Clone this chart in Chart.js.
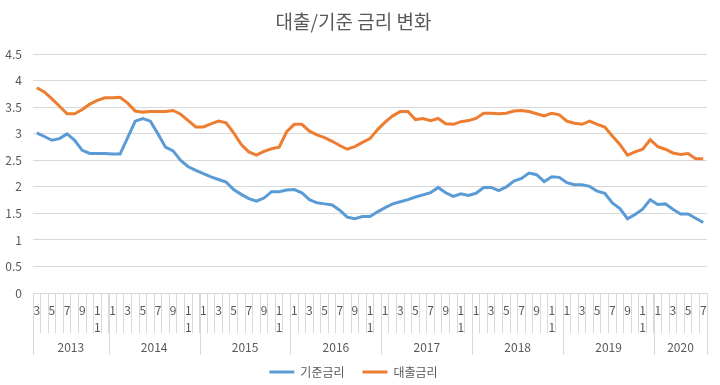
<!DOCTYPE html>
<html>
<head>
<meta charset="utf-8">
<script src="https://cdn.jsdelivr.net/npm/chart.js"></script>
<style>
body { margin: 0; background: #fff; }
#wrap { width: 720px; height: 385px; position: relative; }
</style>
</head>
<body>
<div id="wrap"><canvas id="rateChart"></canvas></div>
<script>
// month of each point, 2013-03 .. 2020-07
const months = [
    3,4,5,6,7,8,9,10,11,12,
    1,2,3,4,5,6,7,8,9,10,11,12,
    1,2,3,4,5,6,7,8,9,10,11,12,
    1,2,3,4,5,6,7,8,9,10,11,12,
    1,2,3,4,5,6,7,8,9,10,11,12,
    1,2,3,4,5,6,7,8,9,10,11,12,
    1,2,3,4,5,6,7,8,9,10,11,12,
    1,2,3,4,5,6,7
];
const years = ["2013","2014","2015","2016","2017","2018","2019","2020"];
const yearCounts = [10,12,12,12,12,12,12,7];

const baseRate = [
    3.02,2.95,2.88,2.91,3.00,2.88,2.69,2.63,2.63,2.63,2.62,2.62,2.93,3.24,3.29,
    3.24,3.00,2.75,2.68,2.50,2.38,2.31,2.25,2.19,2.14,2.09,1.95,1.86,1.78,1.73,
    1.79,1.91,1.91,1.94,1.95,1.89,1.76,1.70,1.68,1.66,1.56,1.43,1.40,1.44,
    1.44,1.53,1.61,1.68,1.72,1.76,1.81,1.85,1.89,1.99,1.89,1.82,1.87,1.84,1.88,
    1.99,1.99,1.93,2.00,2.11,2.16,2.26,2.23,2.10,2.19,2.18,2.08,2.04,2.04,
    2.01,1.92,1.88,1.70,1.59,1.40,1.48,1.58,1.76,1.67,1.68,1.58,1.49,1.49,1.41,1.33
];
const loanRate = [
    3.87,3.79,3.66,3.52,3.38,3.38,3.46,3.56,3.63,3.68,3.68,3.69,3.58,3.43,3.41,
    3.42,3.42,3.42,3.44,3.37,3.25,3.13,3.13,3.19,3.24,3.21,3.02,2.80,2.66,2.60,
    2.67,2.72,2.75,3.04,3.18,3.18,3.05,2.98,2.93,2.86,2.78,2.71,2.76,2.84,
    2.91,3.08,3.22,3.34,3.42,3.42,3.27,3.29,3.25,3.29,3.19,3.18,3.23,3.25,3.29,
    3.39,3.39,3.38,3.39,3.43,3.44,3.42,3.38,3.34,3.39,3.36,3.24,3.20,3.18,
    3.24,3.18,3.13,2.96,2.80,2.60,2.66,2.71,2.89,2.76,2.71,2.64,2.61,2.63,2.53,2.53
];

const FONT = "'Malgun Gothic','Noto Sans CJK KR',sans-serif";
const GRAY = "#d9d9d9";
const TEXT = "#595959";

// year row under the month labels
const yearRow = {
    id: "yearRow",
    afterDraw(chart) {
        const x = chart.scales.x;
        const ctx = chart.ctx;
        const half = (x.getPixelForValue(1) - x.getPixelForValue(0)) / 2;
        const top = chart.chartArea.bottom;
        ctx.save();
        ctx.strokeStyle = GRAY;
        ctx.lineWidth = 1;
        ctx.fillStyle = TEXT;
        ctx.font = "12px " + FONT;
        ctx.textAlign = "center";
        ctx.textBaseline = "middle";
        let start = 0;
        years.forEach((y, k) => {
            const x0 = x.getPixelForValue(start) - half;
            const x1 = x.getPixelForValue(start + yearCounts[k] - 1) + half;
            ctx.beginPath();
            ctx.moveTo(Math.round(x0) + 0.5, top);
            ctx.lineTo(Math.round(x0) + 0.5, top + 62);
            if (k === years.length - 1) {
                ctx.moveTo(Math.round(x1) + 0.5, top);
                ctx.lineTo(Math.round(x1) + 0.5, top + 62);
            }
            ctx.stroke();
            ctx.fillText(y, (x0 + x1) / 2, top + 54);
            start += yearCounts[k];
        });
        ctx.restore();
    }
};

new Chart(document.getElementById("rateChart"), {
    type: "line",
    data: {
        labels: months,
        datasets: [
            { label: "기준금리", data: baseRate, borderColor: "#5B9BD5", backgroundColor: "#5B9BD5",
              borderWidth: 3, pointRadius: 0, tension: 0 },
            { label: "대출금리", data: loanRate, borderColor: "#ED7D31", backgroundColor: "#ED7D31",
              borderWidth: 3, pointRadius: 0, tension: 0 }
        ]
    },
    options: {
        responsive: true,
        maintainAspectRatio: false,
        animation: false,
        layout: { padding: { top: 10, right: 13, left: 0, bottom: -3 } },
        plugins: {
            title: {
                display: true,
                text: "대출/기준 금리 변화",
                color: TEXT,
                font: { family: FONT, size: 19, weight: "normal" },
                padding: { top: 0, bottom: 21.5 }
            },
            legend: {
                position: "bottom",
                labels: {
                    usePointStyle: true, pointStyle: "line", pointStyleWidth: 25,
                    color: TEXT, font: { family: FONT, size: 12 }, padding: 18
                }
            },
            tooltip: { enabled: false }
        },
        scales: {
            x: {
                offset: true,
                grid: { offset: true, drawOnChartArea: false, drawTicks: true, tickLength: 40, color: GRAY },
                border: { display: false },
                ticks: {
                    autoSkip: false, maxRotation: 0, padding: -31,
                    color: TEXT, font: { family: FONT, size: 12, lineHeight: 1.4 },
                    callback: (v, i) => {
                        if (i % 2 !== 0) return "";
                        const m = months[i];
                        return m === 11 ? ["1", "1"] : String(m);
                    }
                },
                afterFit: s => { s.height = 55; }
            },
            y: {
                min: 0, max: 4.5,
                grid: { color: GRAY, drawTicks: false },
                border: { display: false },
                ticks: {
                    stepSize: 0.5, padding: 11, color: TEXT, font: { family: FONT, size: 12 },
                    callback: v => String(+v.toFixed(1))
                },
                afterFit: s => { s.width = 33; }
            }
        }
    },
    plugins: [yearRow]
});
</script>
</body>
</html>
